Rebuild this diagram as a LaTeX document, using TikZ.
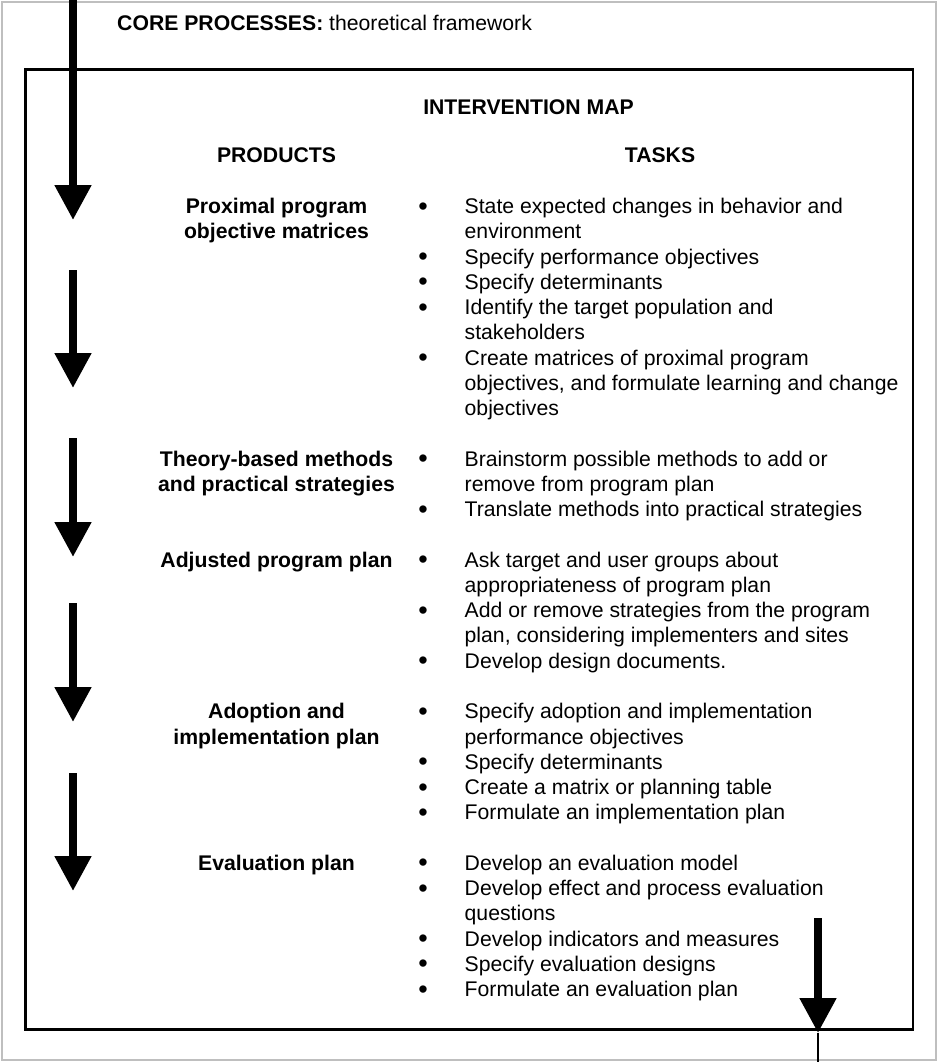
\documentclass[tikz,border=0pt]{standalone}
\usepackage{fontspec}
\setmainfont{Liberation Sans}
\usetikzlibrary{arrows.meta,positioning}

\tikzset{
  heading/.style={font=\bfseries, inner sep=0pt, anchor=base},
  product/.style={font=\bfseries, align=center, inner sep=0pt, anchor=base},
  task/.style={align=left, inner sep=0pt, anchor=base west},
  dot/.style={font=\fontsize{27}{30}\selectfont, inner sep=0pt, anchor=base},
  flow/.style={line width=8pt, -{Triangle[width=35pt,length=35pt]}}
}

\begin{document}
\fontsize{21.2}{25.26}\selectfont
\begin{tikzpicture}[x=1pt, y=-1pt]
    \useasboundingbox (0,0) rectangle (938,1062);

    % Outer and inner frames
    \draw[gray!50, line width=1.5pt] (2,2) rectangle (936,1060);
    \draw[line width=2.2pt] (25.5,69.5) rectangle (913.3,1029.5);

    % Headings
    \node[anchor=base west, inner sep=0pt] (core) at (117,31) {\textbf{CORE PROCESSES:} theoretical framework};
    \node[heading] (map) at (528.5,114) {INTERVENTION MAP};
    \node[heading] (products) at (276.5,162) {PRODUCTS};
    \node[heading] (tasks) at (660,162) {TASKS};

    % Products (multi-line nodes sit on the baseline of their last line)
    \node[product] (p1) at (276.5,238.8) {Proximal program\\objective matrices};
    \node[product] (p2) at (276.5,491.4) {Theory-based methods\\and practical strategies};
    \node[product] (p3) at (276.5,567.1) {Adjusted program plan};
    \node[product] (p4) at (276.5,744.0) {Adoption and\\implementation plan};
    \node[product] (p5) at (276.5,870.3) {Evaluation plan};

    % Tasks for the objective matrices
    \node[task] (t1) at (464.5,238.8) {State expected changes in behavior and\\environment};
    \node[task] (t2) at (464.5,264.0) {Specify performance objectives};
    \node[task] (t3) at (464.5,289.3) {Specify determinants};
    \node[task] (t4) at (464.5,339.8) {Identify the target population and\\stakeholders};
    \node[task] (t5) at (464.5,415.6) {Create matrices of proximal program\\objectives, and formulate learning and change\\objectives};

    % Tasks for methods and strategies
    \node[task] (t6) at (464.5,491.4) {Brainstorm possible methods to add or\\remove from program plan};
    \node[task] (t7) at (464.5,516.6) {Translate methods into practical strategies};

    % Tasks for the program plan
    \node[task] (t8) at (464.5,592.4) {Ask target and user groups about\\appropriateness of program plan};
    \node[task] (t9) at (464.5,642.9) {Add or remove strategies from the program\\plan, considering implementers and sites};
    \node[task] (t10) at (464.5,668.2) {Develop design documents.};

    % Tasks for adoption and implementation
    \node[task] (t11) at (464.5,744.0) {Specify adoption and implementation\\performance objectives};
    \node[task] (t12) at (464.5,769.2) {Specify determinants};
    \node[task] (t13) at (464.5,794.5) {Create a matrix or planning table};
    \node[task] (t14) at (464.5,819.7) {Formulate an implementation plan};

    % Tasks for evaluation
    \node[task] (t15) at (464.5,870.3) {Develop an evaluation model};
    \node[task] (t16) at (464.5,920.8) {Develop effect and process evaluation\\questions};
    \node[task] (t17) at (464.5,946.0) {Develop indicators and measures};
    \node[task] (t18) at (464.5,971.3) {Specify evaluation designs};
    \node[task] (t19) at (464.5,996.6) {Formulate an evaluation plan};

    % Bullets, on the first line of each task
    \node[dot] (b1) at (423,215.0) {\textbullet};
    \node[dot] (b2) at (423,265.5) {\textbullet};
    \node[dot] (b3) at (423,290.8) {\textbullet};
    \node[dot] (b4) at (423,316.0) {\textbullet};
    \node[dot] (b5) at (423,366.6) {\textbullet};
    \node[dot] (b6) at (423,467.6) {\textbullet};
    \node[dot] (b7) at (423,518.1) {\textbullet};
    \node[dot] (b8) at (423,568.6) {\textbullet};
    \node[dot] (b9) at (423,619.2) {\textbullet};
    \node[dot] (b10) at (423,669.7) {\textbullet};
    \node[dot] (b11) at (423,720.2) {\textbullet};
    \node[dot] (b12) at (423,770.7) {\textbullet};
    \node[dot] (b13) at (423,796.0) {\textbullet};
    \node[dot] (b14) at (423,821.2) {\textbullet};
    \node[dot] (b15) at (423,871.8) {\textbullet};
    \node[dot] (b16) at (423,897.0) {\textbullet};
    \node[dot] (b17) at (423,947.5) {\textbullet};
    \node[dot] (b18) at (423,972.8) {\textbullet};
    \node[dot] (b19) at (423,998.1) {\textbullet};

    % Flow arrows on the left
    \coordinate (a1s) at (73,0);     \coordinate (a1e) at (73,220);
    \coordinate (a2s) at (73,270);   \coordinate (a2e) at (73,388);
    \coordinate (a3s) at (73,438);   \coordinate (a3e) at (73,557);
    \coordinate (a4s) at (73,603);   \coordinate (a4e) at (73,722);
    \coordinate (a5s) at (73,773);   \coordinate (a5e) at (73,891);
    \draw[flow] (a1s) -- (a1e);
    \draw[flow] (a2s) -- (a2e);
    \draw[flow] (a3s) -- (a3e);
    \draw[flow] (a4s) -- (a4e);
    \draw[flow] (a5s) -- (a5e);

    % Exit arrow on the right
    \coordinate (a6s) at (818,918);  \coordinate (a6e) at (818,1033);
    \coordinate (out) at (818,1062);
    \draw[line width=1.3pt] (a6e) -- (out);
    \draw[flow] (a6s) -- (a6e);
\end{tikzpicture}
\end{document}
